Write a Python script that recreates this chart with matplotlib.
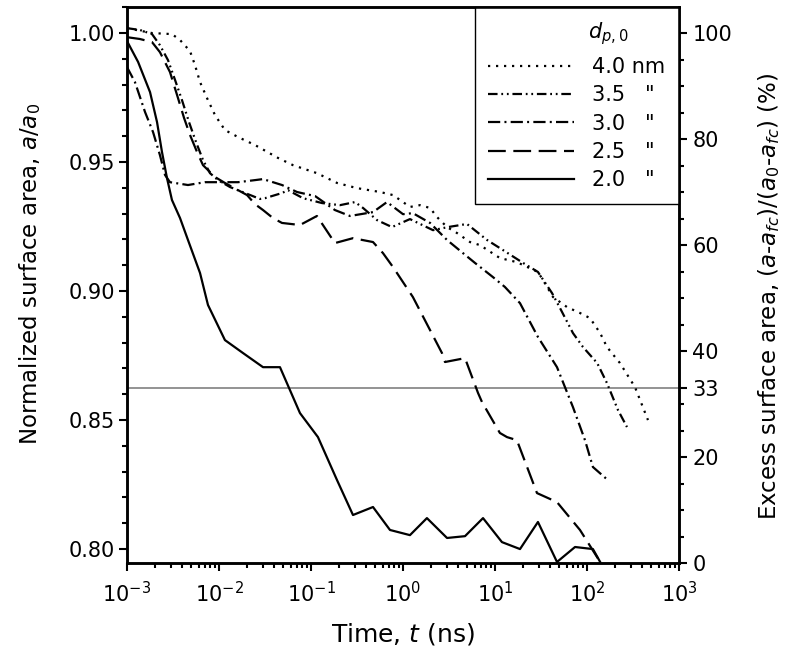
import matplotlib
matplotlib.use("Agg")
import matplotlib.pyplot as plt
from matplotlib.ticker import (FixedLocator, FormatStrFormatter, LogLocator,
                               MultipleLocator, NullFormatter)

# ---------------- data ----------------
t_40 = [0.001, 0.00187, 0.00308, 0.00377, 0.00484, 0.00548, 0.00622, 0.00741, 0.00905,
        0.0116, 0.0161, 0.0246, 0.0438, 0.0637, 0.116, 0.192, 0.316, 0.562, 0.779, 1.00,
        1.19, 1.53, 1.97, 2.34, 3.01, 3.86, 5.35, 6.87, 11.3, 17.3, 29.3, 33.2, 42.7,
        60.6, 83.9, 108, 139, 165, 228, 332, 460]
a_40 = [1.0019, 1.0000, 0.9996, 0.9973, 0.9930, 0.9876, 0.9810, 0.9748, 0.9682,
        0.9624, 0.9597, 0.9566, 0.9516, 0.9488, 0.9457, 0.9419, 0.9399, 0.9384, 0.9372, 0.9345,
        0.9326, 0.9333, 0.9322, 0.9287, 0.9248, 0.9225, 0.9190, 0.9178, 0.9128, 0.9112, 0.9074,
        0.9043, 0.8977, 0.8938, 0.8915, 0.8895, 0.8837, 0.8783, 0.8721, 0.8628, 0.8500]

t_35 = [0.001, 0.00138, 0.00187, 0.00228, 0.00279, 0.00333, 0.00396, 0.00472, 0.00562,
        0.00670, 0.00798, 0.00975, 0.0132, 0.0192, 0.0279, 0.0316, 0.0484, 0.0562, 0.0819,
        0.132, 0.207, 0.301, 0.368, 0.522, 0.759, 1.19, 2.12, 3.08, 4.96, 8.19, 12.2, 20.2,
        29.3, 41.7, 50.9, 70.4, 90.5, 129, 165, 217, 272]
a_35 = [1.0019, 1.0012, 0.9996, 0.9953, 0.9895, 0.9818, 0.9740, 0.9655, 0.9578,
        0.9508, 0.9457, 0.9430, 0.9403, 0.9380, 0.9357, 0.9360, 0.9380, 0.9391, 0.9360,
        0.9341, 0.9333, 0.9345, 0.9322, 0.9275, 0.9248, 0.9279, 0.9236, 0.9248, 0.9260,
        0.9198, 0.9159, 0.9109, 0.9074, 0.8992, 0.8934, 0.8837, 0.8783, 0.8721, 0.8643,
        0.8539, 0.8473]

t_30 = [0.001, 0.00122, 0.00157, 0.00192, 0.00228, 0.00259, 0.00293, 0.00460, 0.00704,
        0.0108, 0.0161, 0.0246, 0.0301, 0.0484, 0.0704, 0.111, 0.182, 0.265, 0.472, 0.670,
        1.00, 1.28, 1.97, 3.01, 4.49, 6.06, 9.51, 12.8, 18.7, 29.3, 47.2, 70.4, 95.1, 116, 169]
a_30 = [0.9868, 0.9810, 0.9694, 0.9616, 0.9527, 0.9450, 0.9422, 0.9411, 0.9422,
        0.9422, 0.9422, 0.9430, 0.9434, 0.9411, 0.9384, 0.9368, 0.9314, 0.9291, 0.9306, 0.9345,
        0.9298, 0.9302, 0.9264, 0.9198, 0.9147, 0.9109, 0.9054, 0.9016, 0.8953, 0.8822,
        0.8705, 0.8550, 0.8422, 0.8318, 0.8267]

t_25 = [0.001, 0.00138, 0.00187, 0.00228, 0.00293, 0.00350, 0.00417, 0.00484, 0.00577,
        0.00670, 0.00905, 0.0116, 0.0202, 0.0246, 0.0301, 0.0386, 0.0484, 0.0759, 0.116,
        0.182, 0.286, 0.472, 0.606, 0.779, 1.28, 2.65, 2.86, 4.72, 6.54, 7.22, 11.3, 13.5,
        17.3, 28.6, 47.2, 83.9, 139]
a_25 = [0.9984, 0.9977, 0.9965, 0.9926, 0.9849, 0.9760, 0.9671, 0.9605, 0.9539,
        0.9488, 0.9442, 0.9419, 0.9372, 0.9337, 0.9314, 0.9283, 0.9264, 0.9256, 0.9291,
        0.9186, 0.9205, 0.9190, 0.9147, 0.9093, 0.8977, 0.8760, 0.8725, 0.8740, 0.8605,
        0.8570, 0.8450, 0.8434, 0.8422, 0.8217, 0.8182, 0.8074, 0.7950]

t_20 = [0.001, 0.00132, 0.00178, 0.00212, 0.00240, 0.00272, 0.00308, 0.00377, 0.00460,
        0.00622, 0.00759, 0.0116, 0.0182, 0.0301, 0.0460, 0.0759, 0.119, 0.192, 0.286,
        0.472, 0.722, 1.19, 1.82, 3.01, 4.72, 7.41, 11.9, 18.7, 29.3, 47.2, 74.1, 116, 139]
a_20 = [0.9969, 0.9888, 0.9771, 0.9655, 0.9539, 0.9438, 0.9353, 0.9283, 0.9198,
        0.9070, 0.8946, 0.8810, 0.8760, 0.8705, 0.8705, 0.8527, 0.8434, 0.8267, 0.8132,
        0.8163, 0.8074, 0.8054, 0.8120, 0.8043, 0.8050, 0.8120, 0.8027, 0.8000, 0.8105,
        0.7950, 0.8008, 0.8000, 0.7950]

legend_labels = ['4.0 nm', '3.5   "', '3.0   "', '2.5   "', '2.0   "']
legend_title = '$d_{p,0}$'

a_fc = 0.7946            # normalized area at full coalescence (0 % excess)
excess_ref = 33          # reference excess-area level (%)
y_left_lim = (0.7946, 1.0101)
x_lim = (1e-3, 1e3)
left_ticks_major = [0.80, 0.85, 0.90, 0.95, 1.00]
right_ticks_major = [0, 20, 33, 40, 60, 80, 100]
right_ticks_minor = [5, 10, 15, 25, 30, 45, 50, 55, 65, 70, 75, 85, 90, 95]

# ---------------- style ----------------
plt.rcParams['font.family'] = ['DejaVu Sans']
plt.rcParams['mathtext.fontset'] = 'dejavusans'

fig = plt.figure(figsize=(8, 6.62), dpi=100)
ax = fig.add_axes([127 / 800, 1 - 563 / 662, 552 / 800, 556 / 662])
ax.set_xscale('log')
ax.set_xlim(*x_lim)
ax.set_ylim(*y_left_lim)

lw = 1.6
l40, = ax.plot(t_40, a_40, color='k', lw=lw, linestyle=(0, (1.0, 2.6)))
l35, = ax.plot(t_35, a_35, color='k', lw=lw,
               linestyle=(0, (4.3, 1.7, 0.8, 1.7, 0.8, 1.7)))
l30, = ax.plot(t_30, a_30, color='k', lw=lw, linestyle=(0, (5.5, 1.9, 0.9, 1.9)))
l25, = ax.plot(t_25, a_25, color='k', lw=lw, linestyle=(0, (8.0, 3.4)))
l20, = ax.plot(t_20, a_20, color='k', lw=lw, linestyle='-')

ax.axhline(a_fc + excess_ref / 100 * (1 - a_fc), color='#8a8a8a', lw=1.3, zorder=1)

# left axis ticks
ax.yaxis.set_major_locator(FixedLocator(left_ticks_major))
ax.yaxis.set_minor_locator(MultipleLocator(0.01))
ax.yaxis.set_major_formatter(FormatStrFormatter('%.2f'))
ax.xaxis.set_major_locator(LogLocator(base=10, numticks=12))
ax.xaxis.set_minor_locator(LogLocator(base=10, subs=range(2, 10), numticks=40))
ax.xaxis.set_minor_formatter(NullFormatter())
ax.tick_params(which='both', direction='out', top=False, right=False, width=1.5,
               labelsize=15)
ax.tick_params(which='major', length=6)
ax.tick_params(which='minor', length=3.8)
ax.tick_params(axis='y', which='major', pad=2.5)
ax.tick_params(axis='x', which='major', pad=7)

# right axis
ax2 = ax.twinx()
ax2.set_ylim((y_left_lim[0] - a_fc) / (1 - a_fc) * 100,
             (y_left_lim[1] - a_fc) / (1 - a_fc) * 100)
ax2.yaxis.set_major_locator(FixedLocator(right_ticks_major))
ax2.yaxis.set_minor_locator(FixedLocator(right_ticks_minor))
ax2.tick_params(which='both', direction='out', width=1.5, labelsize=15)
ax2.tick_params(which='major', length=6, pad=3.5)
ax2.tick_params(which='minor', length=3.8)

for a in (ax, ax2):
    for s in a.spines.values():
        s.set_linewidth(1.8)

# labels
ax.set_xlabel('Time, $t$ (ns)', fontsize=18)
ax.xaxis.set_label_coords(0.5, -0.105)
ax.set_ylabel('Normalized surface area, $a/a_\\mathrm{0}$', fontsize=16.5)
ax.yaxis.set_label_coords(-0.152, 0.52)
ax2.set_ylabel('Excess surface area, ($a$-$a_{fc}$)/($a_\\mathrm{0}$-$a_{fc}$) (%)',
               fontsize=16.5)
ax2.yaxis.set_label_coords(1.14, 0.48)

# legend
leg = ax.legend([l40, l35, l30, l25, l20], legend_labels, loc='upper right',
                bbox_to_anchor=(1, 1), borderaxespad=0, frameon=True, fancybox=False,
                edgecolor='k', framealpha=1, fontsize=15, title=' ', title_fontsize=20,
                handlelength=4.1, handletextpad=0.9, borderpad=0.65, labelspacing=0.4)
leg.get_frame().set_linewidth(1.0)
ax.text(0.871, 0.953, legend_title, transform=ax.transAxes, ha='center', va='center',
        fontsize=15, zorder=10)

fig.savefig('out.png', dpi=100)
